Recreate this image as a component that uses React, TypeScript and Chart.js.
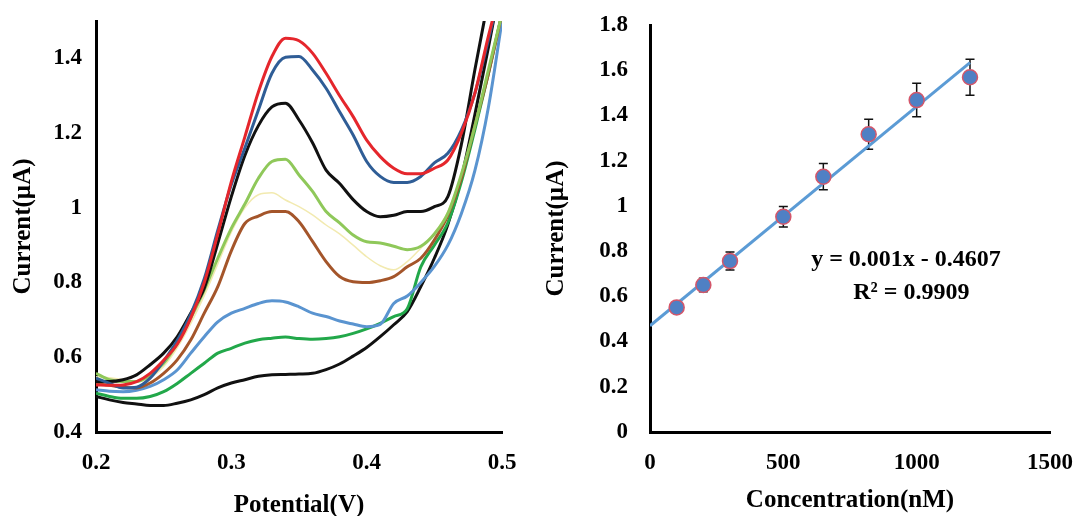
import React, { useEffect, useRef } from "react";
import { Chart, registerables } from "chart.js";

Chart.register(...registerables);

// ---------- Left panel: voltammograms ----------
const potential = [0.20, 0.21, 0.22, 0.23, 0.24, 0.25, 0.26, 0.27, 0.28, 0.29, 0.30, 0.31, 0.32, 0.33, 0.34, 0.35, 0.36, 0.37, 0.38, 0.39, 0.40, 0.41, 0.42, 0.43, 0.44, 0.45, 0.46, 0.47, 0.48, 0.49, 0.50];

const curveRed = [0.526, 0.525, 0.526, 0.535, 0.557, 0.592, 0.635, 0.705, 0.800, 0.930, 1.070, 1.190, 1.310, 1.405, 1.454, 1.447, 1.414, 1.360, 1.300, 1.244, 1.181, 1.137, 1.106, 1.091, 1.091, 1.106, 1.128, 1.200, 1.307, 1.460, 1.600];
const curveDarkBlue = [0.544, 0.530, 0.518, 0.520, 0.544, 0.590, 0.645, 0.715, 0.810, 0.940, 1.062, 1.160, 1.262, 1.360, 1.403, 1.405, 1.369, 1.320, 1.257, 1.195, 1.124, 1.084, 1.068, 1.068, 1.084, 1.120, 1.146, 1.208, 1.307, 1.450, 1.600];
const curveBlackUpper = [0.535, 0.535, 0.540, 0.553, 0.580, 0.611, 0.655, 0.718, 0.785, 0.905, 1.030, 1.140, 1.220, 1.270, 1.280, 1.235, 1.174, 1.101, 1.065, 1.022, 0.990, 0.976, 0.980, 0.990, 0.990, 1.003, 1.030, 1.170, 1.370, 1.560, 1.750];
const curveLightGreen = [0.557, 0.540, 0.535, 0.535, 0.553, 0.584, 0.637, 0.705, 0.780, 0.865, 0.945, 1.010, 1.079, 1.124, 1.130, 1.088, 1.044, 0.990, 0.960, 0.927, 0.909, 0.906, 0.897, 0.888, 0.897, 0.930, 0.985, 1.090, 1.220, 1.370, 1.520];
const curvePaleYellow = [0.548, 0.545, 0.540, 0.535, 0.545, 0.575, 0.625, 0.690, 0.765, 0.850, 0.935, 1.000, 1.035, 1.040, 1.021, 1.003, 0.981, 0.954, 0.930, 0.900, 0.869, 0.845, 0.834, 0.856, 0.892, 0.932, 0.990, 1.090, 1.220, 1.370, 1.520];
const curveBrown = [0.530, 0.525, 0.520, 0.518, 0.531, 0.557, 0.593, 0.646, 0.718, 0.789, 0.885, 0.958, 0.978, 0.990, 0.990, 0.963, 0.910, 0.856, 0.816, 0.802, 0.800, 0.805, 0.816, 0.842, 0.865, 0.914, 0.980, 1.080, 1.220, 1.360, 1.520];
const curveLightBlue = [0.513, 0.509, 0.508, 0.512, 0.522, 0.540, 0.566, 0.611, 0.655, 0.695, 0.718, 0.731, 0.744, 0.751, 0.748, 0.735, 0.718, 0.709, 0.697, 0.689, 0.682, 0.688, 0.744, 0.764, 0.800, 0.843, 0.900, 0.985, 1.100, 1.270, 1.500];
const curveGreen = [0.504, 0.495, 0.490, 0.490, 0.495, 0.508, 0.530, 0.557, 0.584, 0.611, 0.624, 0.638, 0.647, 0.651, 0.654, 0.650, 0.648, 0.650, 0.655, 0.664, 0.676, 0.691, 0.709, 0.730, 0.842, 0.900, 0.960, 1.070, 1.210, 1.360, 1.520];
const curveBlackLower = [0.495, 0.486, 0.479, 0.475, 0.471, 0.471, 0.477, 0.486, 0.500, 0.518, 0.531, 0.540, 0.549, 0.553, 0.554, 0.555, 0.557, 0.567, 0.582, 0.603, 0.626, 0.655, 0.687, 0.722, 0.789, 0.865, 0.955, 1.080, 1.250, 1.430, 1.620];

const leftXTicks = [0.2, 0.3, 0.4, 0.5];
const leftYTicks = [0.4, 0.6, 0.8, 1, 1.2, 1.4];

// ---------- Right panel: calibration ----------
const concentration = [100, 200, 300, 500, 650, 820, 1000, 1200];
const currentMean = [0.551, 0.650, 0.756, 0.952, 1.129, 1.317, 1.468, 1.569];
const currentErr = [0.02, 0.03, 0.04, 0.045, 0.058, 0.066, 0.074, 0.08];
const fitX = [0, 1200];
const fitY = [0.47, 1.634];
const rightXTicks = [0, 500, 1000, 1500];
const rightYTicks = [0, 0.2, 0.4, 0.6, 0.8, 1, 1.2, 1.4, 1.6, 1.8];
const equationLines = ["y = 0.001x - 0.4607", "R\u00B2 = 0.9909"];
const equationAnchorX = [960, 980];
const equationAnchorY = [0.761, 0.615];

const SERIF = "'Liberation Serif', 'Times New Roman', serif";
const tickFont = { family: SERIF, size: 23, weight: "bold" as const };
const titleFont = { family: SERIF, size: 25, weight: "bold" as const, lineHeight: 1 };

function makeScale(o: {
  min: number; max: number; ticks: number[]; fitSize: number; horizontal: boolean;
  pad: number; title: string; titlePad: any;
}) {
  return {
    type: "linear" as const,
    min: o.min,
    max: o.max,
    afterBuildTicks: (s: any) => { s.ticks = o.ticks.map((v) => ({ value: v })); },
    afterFit: (s: any) => {
      if (o.horizontal) s.height = o.fitSize; else s.width = o.fitSize;
      s.paddingTop = 0; s.paddingBottom = 0; s.paddingLeft = 0; s.paddingRight = 0;
    },
    grid: { display: false, drawTicks: false },
    border: { display: true, color: "#000", width: 3 },
    ticks: {
      color: "#000", font: tickFont, padding: o.pad, autoSkip: false, maxRotation: 0,
      includeBounds: false,
      callback: (v: any) => String(v),
    },
    title: { display: true, text: o.title, color: "#000", font: titleFont, padding: o.titlePad },
  };
}

const errorBarPlugin = {
  id: "errorBars",
  beforeDatasetsDraw(chart: any) {
    const { ctx, scales } = chart;
    const x = scales.x, y = scales.y;
    const cap = 4.5;
    ctx.save();
    ctx.strokeStyle = "#111";
    ctx.lineWidth = 1.5;
    concentration.forEach((c, i) => {
      const px = x.getPixelForValue(c);
      const top = y.getPixelForValue(currentMean[i] + currentErr[i]);
      const bot = y.getPixelForValue(currentMean[i] - currentErr[i]);
      ctx.beginPath();
      ctx.moveTo(px, top); ctx.lineTo(px, bot);
      ctx.moveTo(px - cap, top); ctx.lineTo(px + cap, top);
      ctx.moveTo(px - cap, bot); ctx.lineTo(px + cap, bot);
      ctx.stroke();
    });
    ctx.restore();
  },
};

const equationPlugin = {
  id: "equation",
  afterDatasetsDraw(chart: any) {
    const { ctx, scales } = chart;
    ctx.save();
    ctx.font = `bold 24px ${SERIF}`;
    ctx.fillStyle = "#000";
    ctx.textAlign = "center";
    ctx.textBaseline = "middle";
    equationLines.forEach((t, i) => {
      ctx.fillText(t, scales.x.getPixelForValue(equationAnchorX[i]), scales.y.getPixelForValue(equationAnchorY[i]));
    });
    ctx.restore();
  },
};

const curveSpecs: [number[], string, number][] = [
  [curveRed, "#e5262c", 3],
  [curveDarkBlue, "#2f5d96", 3],
  [curveBlackUpper, "#111111", 3],
  [curveLightGreen, "#8fc85a", 3],
  [curvePaleYellow, "#f2eab0", 1.5],
  [curveBrown, "#a4552a", 3],
  [curveLightBlue, "#5a94d0", 3],
  [curveGreen, "#22a84a", 3],
  [curveBlackLower, "#111111", 3],
];

export default function App() {
  const leftRef = useRef<HTMLCanvasElement | null>(null);
  const rightRef = useRef<HTMLCanvasElement | null>(null);

  useEffect(() => {
    const left = new Chart(leftRef.current as HTMLCanvasElement, {
      type: "line",
      data: {
        datasets: curveSpecs.map(([vals, color, w]) => ({
          data: potential.map((p, i) => ({ x: p, y: vals[i] })),
          borderColor: color,
          borderWidth: w,
          pointRadius: 0,
          fill: false,
          cubicInterpolationMode: "monotone" as const,
        })),
      },
      options: {
        responsive: false,
        animation: false,
        events: [],
        layout: { autoPadding: false, padding: { left: 0, top: 21, right: 38, bottom: 0 } },
        plugins: { legend: { display: false }, tooltip: { enabled: false } },
        scales: {
          x: makeScale({ min: 0.2, max: 0.5, ticks: leftXTicks, fitSize: 84, horizontal: true, pad: 17, title: "Potential(V)", titlePad: { top: 0, bottom: -2 } }),
          y: makeScale({ min: 0.4, max: 1.5, ticks: leftYTicks, fitSize: 96, horizontal: false, pad: 14, title: "Current(\u00B5A)", titlePad: { top: 11, bottom: 0 } }),
        },
      } as any,
    });

    const right = new Chart(rightRef.current as HTMLCanvasElement, {
      type: "scatter",
      data: {
        datasets: [
          {
            type: "scatter" as const,
            data: concentration.map((c, i) => ({ x: c, y: currentMean[i] })),
            backgroundColor: "#4f80c4",
            borderColor: "#d4566a",
            borderWidth: 1.5,
            pointRadius: 7.5,
            order: 0,
          },
          {
            type: "line" as const,
            data: fitX.map((v, i) => ({ x: v, y: fitY[i] })),
            borderColor: "#5b9bd5",
            borderWidth: 3,
            pointRadius: 0,
            fill: false,
            order: 1,
          },
        ],
      },
      options: {
        responsive: false,
        animation: false,
        events: [],
        layout: { autoPadding: false, padding: { left: 0, top: 25, right: 28, bottom: 0 } },
        plugins: { legend: { display: false }, tooltip: { enabled: false } },
        scales: {
          x: makeScale({ min: 0, max: 1500, ticks: rightXTicks, fitSize: 84, horizontal: true, pad: 17, title: "Concentration(nM)", titlePad: { top: 0, bottom: 3 } }),
          y: makeScale({ min: 0, max: 1.8, ticks: rightYTicks, fitSize: 110, horizontal: false, pad: 22, title: "Current(\u00B5A)", titlePad: { top: 4, bottom: 0 } }),
        },
      } as any,
      plugins: [errorBarPlugin, equationPlugin],
    });

    return () => {
      left.destroy();
      right.destroy();
    };
  }, []);

  return (
    <div style={{ position: "absolute", left: 0, top: 0, width: 1078, height: 516, background: "#fff", overflow: "hidden" }}>
      <canvas ref={leftRef} width={540} height={516} style={{ position: "absolute", left: 0, top: 0 }} />
      <canvas ref={rightRef} width={538} height={516} style={{ position: "absolute", left: 540, top: 0 }} />
    </div>
  );
}
